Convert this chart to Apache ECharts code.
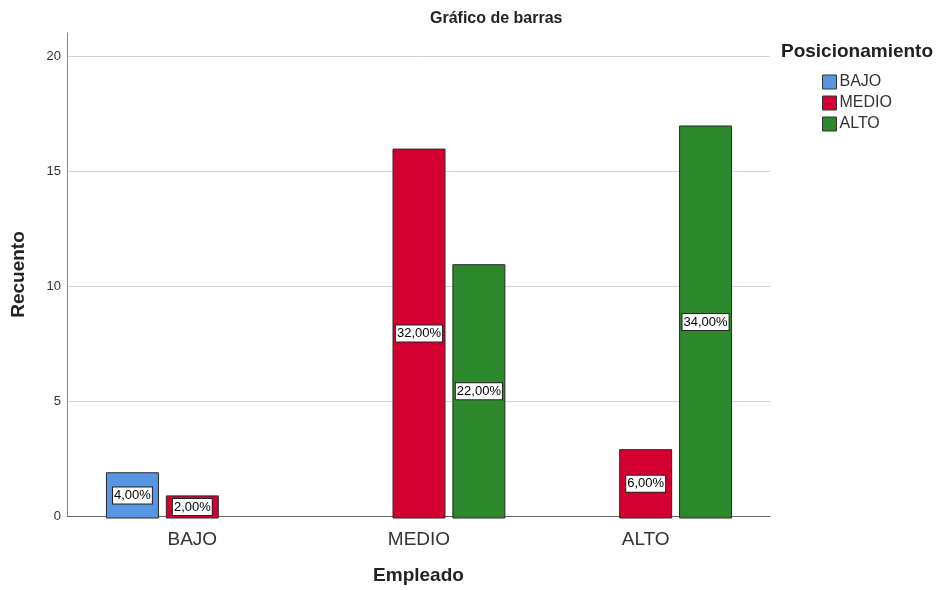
<!DOCTYPE html>
<html><head><meta charset="utf-8">
<script src="https://cdn.jsdelivr.net/npm/echarts@6/dist/echarts.min.js"></script>
<style>html,body{margin:0;padding:0;background:#fff}#c{width:938px;height:590px}</style>
</head><body><div id="c"></div>
<script>
const categories = ['BAJO', 'MEDIO', 'ALTO'];
const seriesNames = ['BAJO', 'MEDIO', 'ALTO'];
const bajoValues = [2, null, null];
const medioValues = [1, 16, 3];
const altoValues = [null, 11, 17];
const colors = ['#5596e3', '#d50032', '#2b882b'];

const allValues = [bajoValues, medioValues, altoValues];
const total = allValues.flat().reduce((a, v) => a + (v || 0), 0);
const font = 'Arial, "Liberation Sans", sans-serif';

const chart = echarts.init(document.getElementById('c'), null, {renderer: 'canvas'});
const yCommon = {type: 'value', min: 0, max: 21, interval: 5};
chart.setOption({
  animation: false,
  textStyle: {fontFamily: font},
  title: [
    {text: 'Gráfico de barras', left: 430, top: 11, padding: 0, textStyle: {fontSize: 16, fontWeight: 'bold', color: '#222', fontFamily: font}},
    {text: 'Posicionamiento', left: 781, top: 42, padding: 0, textStyle: {fontSize: 19, fontWeight: 'bold', color: '#222', fontFamily: font}}
  ],
  legend: {
    orient: 'vertical', left: 822, top: 74, padding: 0, itemWidth: 14, itemHeight: 14, itemGap: 5,
    icon: 'rect', data: seriesNames,
    itemStyle: {borderColor: '#333', borderWidth: 1},
    textStyle: {fontSize: 16, color: '#333', fontFamily: font, padding: [0, 0, 0, -2]}
  },
  grid: [
    {left: 67, right: 168, top: 33, bottom: 71.5},
    {left: 79, right: 179, top: 33, bottom: 71.5}
  ],
  xAxis: [
    {type: 'category', gridIndex: 0, data: categories,
     axisLine: {lineStyle: {color: '#666', width: 1}}, axisTick: {show: false}, axisLabel: {show: false},
     name: 'Empleado', nameLocation: 'middle', nameGap: 50,
     nameTextStyle: {fontSize: 19, fontWeight: 'bold', color: '#222', fontFamily: font}},
    {type: 'category', gridIndex: 1, data: categories,
     axisLine: {show: false}, axisTick: {show: false},
     axisLabel: {fontSize: 19, color: '#333', margin: 12, fontFamily: font}}
  ],
  yAxis: [
    Object.assign({gridIndex: 0,
     axisLine: {show: true, lineStyle: {color: '#888', width: 1}}, axisTick: {show: false},
     axisLabel: {fontSize: 13, color: '#333', margin: 6, showMaxLabel: false, fontFamily: font,
       formatter: v => (v % 5 === 0 ? String(v) : '')},
     splitLine: {show: true, lineStyle: {color: ['#d3d3d3', '#d3d3d3', '#d3d3d3', '#d3d3d3', '#d3d3d3', 'rgba(0,0,0,0)'], width: 1}},
     name: 'Recuento', nameLocation: 'middle', nameGap: 39, nameRotate: 90,
     nameTextStyle: {fontSize: 19, fontWeight: 'bold', color: '#222', fontFamily: font}}, yCommon),
    Object.assign({gridIndex: 1, show: false, splitLine: {show: false}}, yCommon)
  ],
  series: allValues.map((vals, i) => ({
    name: seriesNames[i], type: 'bar', xAxisIndex: 1, yAxisIndex: 1,
    data: vals, barWidth: 53, barGap: '13%',
    itemStyle: {color: colors[i], borderColor: '#2a2a2a', borderWidth: 1},
    label: {
      show: true, position: 'inside', fontSize: 13, color: '#000', fontFamily: font,
      backgroundColor: '#fff', borderColor: '#222', borderWidth: 1, padding: [2, 1, 1, 1],
      formatter: p => (p.value / total * 100).toFixed(2).replace('.', ',') + '%'
    }
  }))
});
</script></body></html>
